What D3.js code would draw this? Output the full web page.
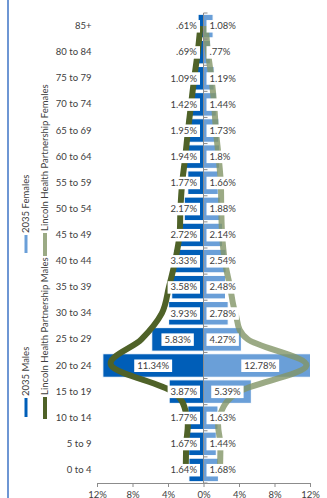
<!DOCTYPE html>
<html>
<head>
<meta charset="utf-8">
<script src="https://cdn.jsdelivr.net/npm/d3@7"></script>
<style>
  html, body { margin: 0; padding: 0; background: #fff; }
  #chart-pyramid { width: 327px; height: 498px; overflow: hidden; }
  text { font-family: Lato, "Open Sans", sans-serif; fill: #404040; }
</style>
</head>
<body>
<div id="chart-pyramid"></div>
<script>
// Age bands, youngest first (drawn bottom to top)
const ageGroups = ['0 to 4', '5 to 9', '10 to 14', '15 to 19', '20 to 24', '25 to 29', '30 to 34',
  '35 to 39', '40 to 44', '45 to 49', '50 to 54', '55 to 59', '60 to 64', '65 to 69', '70 to 74',
  '75 to 79', '80 to 84', '85+'];

// 2035 projection, % of population
const males2035 = [1.64, 1.67, 1.77, 3.87, 11.34, 5.83, 3.93, 3.58, 3.33, 2.72, 2.17, 1.77, 1.94, 1.95, 1.42, 1.09, 0.69, 0.61];
const females2035 = [1.68, 1.44, 1.63, 5.39, 12.78, 4.27, 2.78, 2.48, 2.54, 2.14, 1.88, 1.66, 1.8, 1.73, 1.44, 1.19, 0.77, 1.08];

// Lincoln Health Partnership profile, % of population
const lhpMales = [2.0, 1.95, 1.85, 3.5, 10.4, 7.0, 4.7, 3.9, 3.2, 2.7, 2.6, 2.4, 2.05, 1.75, 1.4, 1.05, 0.65, 0.35];
const lhpFemales = [1.85, 1.9, 1.75, 4.0, 11.6, 5.0, 3.6, 3.0, 2.4, 2.1, 2.0, 1.95, 1.7, 1.4, 1.2, 0.9, 0.5, 0.25];

const xTicks = [-12, -8, -4, 0, 4, 8, 12];

const COLORS = {
  male: '#005eb8',
  female: '#6a9fd8',
  lhpMale: '#4f6228',
  lhpFemale: '#829566'
};

// "#.##%" style: drop the leading zero
const pct = v => String(v).replace(/^0\./, '.') + '%';

const PyramidChart = {
  render() {
    const container = document.getElementById('chart-pyramid');
    container.innerHTML = '';

    const W = 327, H = 498;
    const margin = { top: 13, right: 17, bottom: 15, left: 97 };
    const width = W - margin.left - margin.right;
    const height = H - margin.top - margin.bottom;

    const svg = d3.select(container)
      .append('svg')
      .attr('width', W)
      .attr('height', H);

    // frame edge on the left
    svg.append('line')
      .attr('x1', 8).attr('x2', 8)
      .attr('y1', 0).attr('y2', H)
      .attr('stroke', '#4a7cc9').attr('stroke-width', 1.6);

    svg.append('defs').append('clipPath').attr('id', 'plot-clip')
      .append('rect').attr('x', 0).attr('y', -2).attr('width', width).attr('height', height + 4);

    const g = svg.append('g')
      .attr('transform', `translate(${margin.left},${margin.top})`);

    const x = d3.scaleLinear().domain([-12, 12]).range([0, width]);
    const y = d3.scaleBand()
      .domain(ageGroups.slice().reverse())
      .range([0, height])
      .paddingInner(0.1)
      .paddingOuter(0.05);
    const cy = age => y(age) + y.bandwidth() / 2;
    const x0 = x(0);

    const rows = ageGroups.map((age, i) => ({
      age,
      male: males2035[i],
      female: females2035[i],
      lhpM: lhpMales[i],
      lhpF: lhpFemales[i]
    }));

    const plot = g.append('g').attr('clip-path', 'url(#plot-clip)');

    // Bars — 2035 males (left) and females (right)
    plot.selectAll('.bar-male')
      .data(rows)
      .join('rect')
      .attr('class', 'bar-male')
      .attr('x', d => x(-d.male))
      .attr('y', d => y(d.age))
      .attr('width', d => x0 - x(-d.male))
      .attr('height', y.bandwidth())
      .attr('fill', COLORS.male)
      .attr('stroke', '#fff').attr('stroke-width', 1);

    plot.selectAll('.bar-female')
      .data(rows)
      .join('rect')
      .attr('class', 'bar-female')
      .attr('x', x0)
      .attr('y', d => y(d.age))
      .attr('width', d => x(d.female) - x0)
      .attr('height', y.bandwidth())
      .attr('fill', COLORS.female)
      .attr('stroke', '#fff').attr('stroke-width', 1);

    // Centre (category) axis
    g.append('line')
      .attr('x1', x0).attr('x2', x0)
      .attr('y1', 0).attr('y2', height)
      .attr('stroke', '#8c8c8c').attr('stroke-width', 1);

    const step = y.step();
    const bounds = ageGroups.map(a => y(a) - (step - y.bandwidth()) / 2).concat([height]);
    g.selectAll('.cat-tick')
      .data(bounds)
      .join('line')
      .attr('class', 'cat-tick')
      .attr('x1', x0).attr('x2', x0 + 4)
      .attr('y1', d => d).attr('y2', d => d)
      .attr('stroke', '#8c8c8c').attr('stroke-width', 1);

    // Lincoln Health Partnership smoothed profiles
    const lineM = d3.line()
      .x(d => x(-d.lhpM))
      .y(d => cy(d.age))
      .curve(d3.curveCardinal.tension(0));
    const lineF = d3.line()
      .x(d => x(d.lhpF))
      .y(d => cy(d.age))
      .curve(d3.curveCardinal.tension(0));

    plot.append('path')
      .datum(rows)
      .attr('d', lineM)
      .attr('fill', 'none')
      .attr('stroke', COLORS.lhpMale)
      .attr('stroke-width', 6);

    plot.append('path')
      .datum(rows)
      .attr('d', lineF)
      .attr('fill', 'none')
      .attr('stroke', COLORS.lhpFemale)
      .attr('stroke-opacity', 0.8)
      .attr('stroke-width', 6);

    // Data labels on white boxes
    const labels = g.append('g').attr('class', 'data-labels');
    const addLabel = (d, side) => {
      const v = side === 'm' ? d.male : d.female;
      const lg = labels.append('g');
      const box = lg.append('rect').attr('fill', '#fff');
      const t = lg.append('text')
        .attr('text-anchor', 'middle')
        .attr('dy', '0.35em')
        .style('font-size', '9.5px')
        .text(pct(v));
      const w = t.node().getComputedTextLength();
      let cx;
      if (side === 'm') {
        cx = Math.min((x(-v) + x0) / 2, x0 - 6.5 - w / 2);
      } else {
        cx = Math.max((x(v) + x0) / 2, x0 + 6 + w / 2);
      }
      const yy = cy(d.age);
      t.attr('x', cx).attr('y', yy);
      box.attr('x', cx - w / 2 - 3).attr('y', yy - 6)
        .attr('width', w + 6).attr('height', 12.5);
    };
    rows.forEach(d => { addLabel(d, 'm'); addLabel(d, 'f'); });

    // Age group labels
    g.append('g')
      .call(d3.axisLeft(y).tickSize(0).tickPadding(5.5))
      .call(a => a.select('.domain').remove())
      .selectAll('text')
      .style('font-size', '9.5px');

    // Bottom value axis
    g.append('g')
      .attr('transform', `translate(0,${height})`)
      .call(d3.axisBottom(x).tickValues(xTicks).tickSize(4).tickPadding(4)
        .tickFormat(d => Math.abs(d) + '%'))
      .call(a => a.select('.domain').attr('stroke', '#8c8c8c'))
      .call(a => a.selectAll('.tick line').attr('stroke', '#8c8c8c'))
      .selectAll('text')
      .style('font-size', '9.5px');

    // Legend, rotated
    const legendItems = [
      { name: '2035 Females', color: COLORS.female, w: 3, len: 18, opacity: 1, x: 26, y: 253 },
      { name: 'Lincoln Health Partnership Females', color: COLORS.lhpFemale, w: 4, len: 23, opacity: 0.8, x: 45, y: 256 },
      { name: '2035 Males', color: COLORS.male, w: 3, len: 19, opacity: 1, x: 26, y: 417 },
      { name: 'Lincoln Health Partnership Males', color: COLORS.lhpMale, w: 4, len: 22, opacity: 1, x: 45, y: 419 }
    ];
    const legend = svg.selectAll('.legend-item')
      .data(legendItems)
      .join('g')
      .attr('class', 'legend-item')
      .attr('transform', d => `translate(${d.x},${d.y}) rotate(-90)`);
    legend.append('line')
      .attr('x1', 0).attr('x2', d => d.len)
      .attr('y1', 0).attr('y2', 0)
      .attr('stroke', d => d.color)
      .attr('stroke-opacity', d => d.opacity)
      .attr('stroke-width', d => d.w);
    legend.append('text')
      .attr('x', d => d.len + 2)
      .attr('dy', '0.35em')
      .style('font-size', '9.5px')
      .text(d => d.name);
  }
};

PyramidChart.render();
</script>
</body>
</html>
